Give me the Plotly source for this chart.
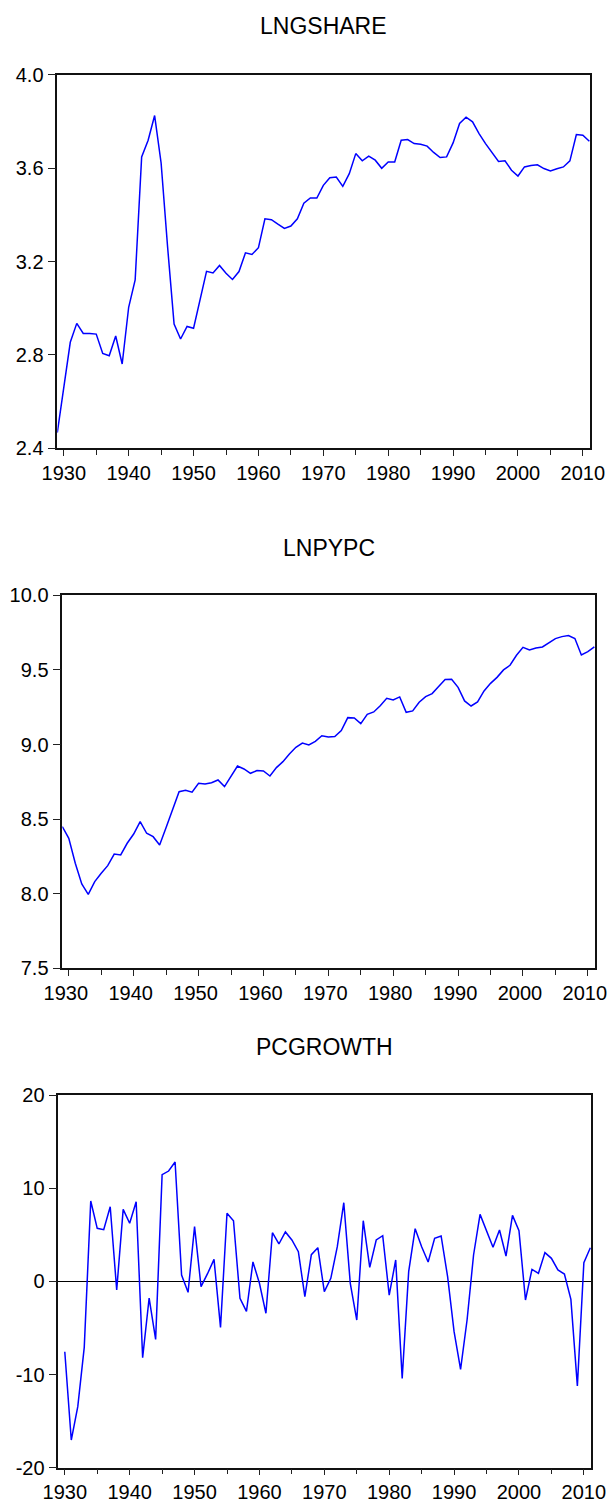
import plotly.graph_objects as go

# ---------------- data ----------------
years = list(range(1929, 2012))
growth_years = list(range(1930, 2012))

lngshare = [
    2.467, 2.660, 2.854, 2.935, 2.892, 2.892, 2.889, 2.806, 2.796, 2.881,
    2.761, 3.004, 3.121, 3.648, 3.719, 3.825, 3.622, 3.262, 2.932, 2.868,
    2.922, 2.914, 3.033, 3.158, 3.151, 3.183, 3.150, 3.123, 3.157, 3.237,
    3.230, 3.259, 3.383, 3.379, 3.360, 3.342, 3.352, 3.383, 3.450, 3.472,
    3.472, 3.526, 3.559, 3.562, 3.522, 3.576, 3.662, 3.631, 3.651, 3.634,
    3.599, 3.626, 3.626, 3.719, 3.722, 3.705, 3.702, 3.694, 3.667, 3.645,
    3.648, 3.708, 3.791, 3.818, 3.798, 3.748, 3.705, 3.665, 3.628, 3.631,
    3.591, 3.566, 3.605, 3.611, 3.614, 3.598, 3.588, 3.597, 3.605, 3.631,
    3.744, 3.741, 3.715,
]

lnpypc = [
    8.450, 8.371, 8.204, 8.065, 7.996, 8.081, 8.137, 8.188, 8.266, 8.260,
    8.338, 8.400, 8.483, 8.405, 8.382, 8.327, 8.443, 8.557, 8.684, 8.693,
    8.680, 8.740, 8.735, 8.744, 8.762, 8.718, 8.785, 8.856, 8.836, 8.807,
    8.825, 8.823, 8.789, 8.845, 8.885, 8.937, 8.981, 9.010, 8.997, 9.021,
    9.059, 9.050, 9.053, 9.093, 9.180, 9.178, 9.140, 9.202, 9.218, 9.260,
    9.310, 9.298, 9.319, 9.216, 9.225, 9.283, 9.321, 9.341, 9.388, 9.435,
    9.437, 9.383, 9.292, 9.258, 9.285, 9.359, 9.410, 9.450, 9.500, 9.531,
    9.598, 9.651, 9.634, 9.647, 9.654, 9.683, 9.710, 9.723, 9.730, 9.710,
    9.600, 9.622, 9.654,
]

pcgrowth = [
    -7.55, -17.03, -13.45, -7.08, 8.62, 5.69, 5.55, 8.01, -0.93, 7.73,
    6.23, 8.55, -8.19, -1.79, -6.23, 11.45, 11.84, 12.81, 0.68, -1.18,
    5.87, -0.57, 0.82, 2.36, -4.94, 7.30, 6.51, -1.82, -3.22, 2.08,
    -0.21, -3.43, 5.22, 4.01, 5.30, 4.44, 3.18, -1.65, 2.86, 3.61,
    -1.11, 0.32, 3.72, 8.44, -0.21, -4.15, 6.51, 1.50, 4.44, 4.90,
    -1.47, 2.29, -10.41, 1.04, 5.65, 3.72, 2.08, 4.62, 4.87, 0.50,
    -5.40, -9.45, -4.15, 2.83, 7.19, 5.44, 3.65, 5.51, 2.72, 7.08,
    5.44, -2.00, 1.29, 0.86, 3.08, 2.47, 1.22, 0.79, -1.93, -11.23,
    2.00, 3.61,
]

titles = ["LNGSHARE", "LNPYPC", "PCGROWTH"]

x_tick_vals = [1930, 1940, 1950, 1960, 1970, 1980, 1990, 2000, 2010]
x_tick_text = ["1930", "1940", "1950", "1960", "1970", "1980", "1990", "2000", "2010"]
x_minor_vals = [1935, 1945, 1955, 1965, 1975, 1985, 1995, 2005]

y1_tick_vals = [2.4, 2.8, 3.2, 3.6, 4.0]
y1_tick_text = ["2.4", "2.8", "3.2", "3.6", "4.0"]
y2_tick_vals = [7.5, 8.0, 8.5, 9.0, 9.5, 10.0]
y2_tick_text = ["7.5", "8.0", "8.5", "9.0", "9.5", "10.0"]
y3_tick_vals = [-20, -10, 0, 10, 20]
y3_tick_text = ["-20", "-10", "0", "10", "20"]

# ---------------- layout constants (pixels) ----------------
W, H = 608, 1508
FONT = "Liberation Sans, Arial, sans-serif"
LINE_COLOR = "#0000FF"
TEXT_COLOR = "#000000"

# (left, right, top, bottom) of each frame in pixels
frames = [
    (57.3, 590.0, 74.7, 448.3),
    (62.3, 595.0, 595.3, 968.3),
    (58.3, 591.0, 1095.0, 1467.7),
]
label_shift = [0, -3, 0]
title_y_px = [26, 548, 1047]
x_range = [1929, 2011.1]
y_ranges = [[2.4, 4.0], [7.5, 10.0], [-20, 20]]
y_ticks = [(y1_tick_vals, y1_tick_text), (y2_tick_vals, y2_tick_text), (y3_tick_vals, y3_tick_text)]

fig = go.Figure()
series = [(years, lngshare), (years, lnpypc), (growth_years, pcgrowth)]

for i, (xs, ys) in enumerate(series):
    sfx = "" if i == 0 else str(i + 1)
    fig.add_trace(go.Scatter(
        x=xs, y=ys, mode="lines",
        line=dict(color=LINE_COLOR, width=1.5),
        xaxis="x" + sfx, yaxis="y" + sfx, showlegend=False,
        hoverinfo="x+y",
    ))

layout = dict(
    template="none",
    width=W, height=H,
    margin=dict(l=0, r=0, t=0, b=0, pad=0),
    paper_bgcolor="white", plot_bgcolor="white",
    font=dict(family=FONT, size=20, color=TEXT_COLOR),
    showlegend=False,
    annotations=[],
)

for i in range(3):
    sfx = "" if i == 0 else str(i + 1)
    l, r, t, b = frames[i]
    xd = [l / W, r / W]
    yd = [1 - b / H, 1 - t / H]
    layout["xaxis" + sfx] = dict(
        domain=xd, range=x_range, anchor="y" + sfx, automargin=False,
        tickmode="array", tickvals=x_tick_vals, ticktext=x_tick_text,
        ticklabeloverflow="allow", ticklabelshift=label_shift[i],
        ticks="outside", ticklen=6, tickwidth=1, tickcolor="#222222",
        minor=dict(tickmode="array", tickvals=x_minor_vals,
                   ticks="outside", ticklen=5, tickwidth=1, tickcolor="#222222", showgrid=False),
        showline=True, mirror=True, linecolor="#111111", linewidth=1.5,
        showgrid=False, zeroline=False,
        tickfont=dict(family=FONT, size=20, color=TEXT_COLOR),
        fixedrange=True,
    )
    tv, tt = y_ticks[i]
    layout["yaxis" + sfx] = dict(
        domain=yd, range=y_ranges[i], anchor="x" + sfx, automargin=False,
        tickmode="array", tickvals=tv, ticktext=tt,
        ticklabeloverflow="allow",
        ticks="outside", ticklen=8, tickwidth=1, tickcolor="#222222",
        showline=True, mirror=True, linecolor="#111111", linewidth=1.5,
        showgrid=False,
        zeroline=(i == 2), zerolinecolor="#000000", zerolinewidth=1,
        tickfont=dict(family=FONT, size=20, color=TEXT_COLOR),
        fixedrange=True,
    )
    layout["annotations"].append(dict(
        text=titles[i], xref="paper", yref="paper",
        x=(l + r) / 2 / W, y=1 - title_y_px[i] / H,
        xanchor="center", yanchor="middle", showarrow=False,
        font=dict(family=FONT, size=23, color=TEXT_COLOR),
    ))

fig.update_layout(**layout)
fig.write_html("out.html", config={"displayModeBar": False},
               post_script="document.body.style.margin='0';")
